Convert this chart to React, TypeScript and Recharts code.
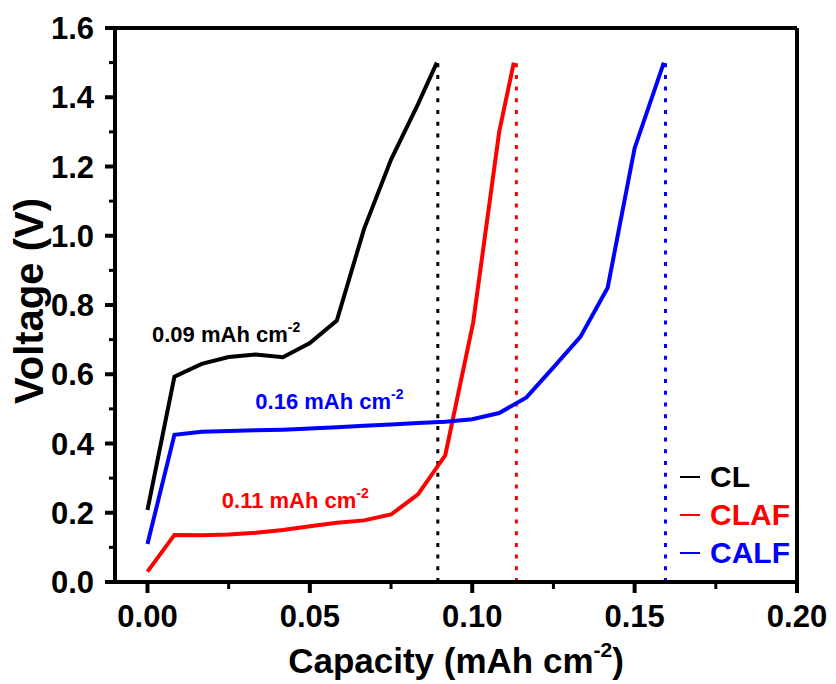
import React from 'react';
import { LineChart, Line, XAxis, YAxis, ReferenceLine, ReferenceDot, Legend } from 'recharts';

const FONT = "'Liberation Sans', Arial, Helvetica, sans-serif";

// ---- data ----
const seriesNames = ['CL', 'CLAF', 'CALF'];
const seriesColors = ['#000000', '#ff0000', '#0000ff'];

const clCapacity = [0, 0.0083, 0.0167, 0.025, 0.0333, 0.0417, 0.05, 0.0583, 0.0667, 0.075, 0.0833, 0.0891];
const clVoltage = [0.208, 0.593, 0.63, 0.65, 0.657, 0.649, 0.69, 0.755, 1.02, 1.22, 1.38, 1.5];

const clafCapacity = [0, 0.0083, 0.0167, 0.025, 0.0333, 0.0417, 0.05, 0.0583, 0.0667, 0.075, 0.0833, 0.0917, 0.1003, 0.1083, 0.1128];
const clafVoltage = [0.03, 0.136, 0.135, 0.137, 0.142, 0.15, 0.161, 0.171, 0.178, 0.195, 0.253, 0.366, 0.75, 1.3, 1.5];

const calfCapacity = [0, 0.0083, 0.0167, 0.025, 0.0333, 0.0417, 0.05, 0.0583, 0.0667, 0.075, 0.0833, 0.0917, 0.1, 0.1083, 0.1167, 0.125, 0.1333, 0.1417, 0.15, 0.159];
const calfVoltage = [0.11, 0.425, 0.434, 0.436, 0.438, 0.44, 0.443, 0.447, 0.451, 0.455, 0.459, 0.463, 0.47, 0.488, 0.533, 0.62, 0.708, 0.85, 1.253, 1.5];

const cutoffCapacity = [0.0894, 0.1136, 0.1595];
const cutoffVoltage = 1.5;

const annotationTexts = ['0.09 mAh cm', '0.16 mAh cm', '0.11 mAh cm'];
const annotationX = [0.0014, 0.0332, 0.0229];
const annotationY = [0.694, 0.499, 0.213];
const annotationColors = ['#000000', '#0000ff', '#ff0000'];

const xTicks = [0, 0.025, 0.05, 0.075, 0.1, 0.125, 0.15, 0.175, 0.2];
const yTicks = [0, 0.1, 0.2, 0.3, 0.4, 0.5, 0.6, 0.7, 0.8, 0.9, 1.0, 1.1, 1.2, 1.3, 1.4, 1.5, 1.6];

const toPoints = (xs: number[], ys: number[]) => xs.map((x, i) => ({ x, y: ys[i] }));
const clData = toPoints(clCapacity, clVoltage);
const clafData = toPoints(clafCapacity, clafVoltage);
const calfData = toPoints(calfCapacity, calfVoltage);
const seriesData = [clData, clafData, calfData];

const isMultiple = (v: number, step: number) => Math.abs(v / step - Math.round(v / step)) < 1e-6;

const XTick = (props: any) => {
  const { x, y, payload } = props;
  const v = payload.value as number;
  const major = isMultiple(v, 0.05);
  return (
    <g>
      <line x1={x} x2={x} y1={y} y2={y + (major ? 11 : 7)} stroke="#000" strokeWidth={major ? 4 : 3} />
      {major && (
        <text x={x} y={y + 45} textAnchor="middle" fontFamily={FONT} fontWeight="bold" fontSize={31} fill="#000">
          {v.toFixed(2)}
        </text>
      )}
    </g>
  );
};

const YTick = (props: any) => {
  const { x, y, payload } = props;
  const v = payload.value as number;
  const major = isMultiple(v, 0.2);
  return (
    <g>
      <line x1={x} x2={x - (major ? 10 : 6)} y1={y} y2={y} stroke="#000" strokeWidth={major ? 4 : 3} />
      {major && (
        <text x={x - 21} y={y + 11} textAnchor="end" fontFamily={FONT} fontWeight="bold" fontSize={31} fill="#000">
          {v.toFixed(1)}
        </text>
      )}
    </g>
  );
};

const XTitle = (props: any) => {
  const vb = props.viewBox || {};
  const cx = vb.x + vb.width / 2;
  const by = vb.y + 91;
  return (
    <text x={cx} y={by} textAnchor="middle" fontFamily={FONT} fontWeight="bold" fontSize={35} fill="#000">
      Capacity (mAh cm
      <tspan dy={-16} fontSize={21}>-2</tspan>
      <tspan dy={16}>)</tspan>
    </text>
  );
};

const YTitle = (props: any) => {
  const vb = props.viewBox || {};
  const cx = vb.x + 35;
  const cy = vb.y + vb.height / 2 - 4;
  return (
    <text
      x={cx}
      y={cy}
      transform={`rotate(-90, ${cx}, ${cy})`}
      textAnchor="middle"
      fontFamily={FONT}
      fontWeight="bold"
      fontSize={40}
      fill="#000"
    >
      Voltage (V)
    </text>
  );
};

const makeAnno = (text: string, color: string) => (props: any) => {
  const vb = props.viewBox || {};
  const x = vb.x + (vb.width || 0) / 2;
  const y = vb.y + (vb.height || 0) / 2;
  return (
    <text x={x} y={y} fontFamily={FONT} fontWeight="bold" fontSize={22} fill={color}>
      {text}
      <tspan dy={-10} fontSize={14}>-2</tspan>
    </text>
  );
};

const renderLegend = (props: any) => {
  const payload = (props.payload || []).slice().sort(
    (a: any, b: any) => seriesNames.indexOf(a.value) - seriesNames.indexOf(b.value)
  );
  return (
    <div style={{ fontFamily: FONT }}>
      {payload.map((entry: any) => (
        <div key={entry.value} style={{ display: 'flex', alignItems: 'center', height: 38.3 }}>
          <svg width={20} height={4} style={{ display: 'block' }}>
            <line x1={0} x2={20} y1={2} y2={2} stroke={entry.color} strokeWidth={2} />
          </svg>
          <span style={{ marginLeft: 10, fontSize: 30, fontWeight: 'bold', color: entry.color, lineHeight: '38px' }}>
            {entry.value}
          </span>
        </div>
      ))}
    </div>
  );
};

export default function App() {
  return (
    <LineChart width={828} height={676} margin={{ top: 20, right: 39, bottom: 0, left: 0 }}>
      <XAxis
        type="number"
        dataKey="x"
        domain={[-0.01, 0.2]}
        allowDataOverflow
        ticks={xTicks}
        interval={0}
        tickSize={0}
        tickMargin={0}
        tickLine={false}
        tick={<XTick />}
        axisLine={{ stroke: '#000', strokeWidth: 4 }}
        height={102}
        label={<XTitle />}
      />
      <YAxis
        type="number"
        dataKey="y"
        domain={[0, 1.6]}
        allowDataOverflow
        ticks={yTicks}
        interval={0}
        tickSize={0}
        tickMargin={0}
        tickLine={false}
        tick={<YTick />}
        axisLine={{ stroke: '#000', strokeWidth: 4 }}
        width={107}
        label={<YTitle />}
      />
      <ReferenceLine y={1.6} stroke="#000" strokeWidth={4} />
      <ReferenceLine x={0.2} stroke="#000" strokeWidth={4} />
      {cutoffCapacity.map((c, i) => (
        <ReferenceLine
          key={'cut' + i}
          segment={[{ x: c, y: 0 }, { x: c, y: cutoffVoltage }]}
          stroke={seriesColors[i]}
          strokeWidth={3}
          strokeDasharray="4 7.7"
        />
      ))}
      {seriesNames.map((name, i) => (
        <Line
          key={name}
          name={name}
          data={seriesData[i]}
          dataKey="y"
          type="linear"
          stroke={seriesColors[i]}
          strokeWidth={4}
          dot={false}
          activeDot={false}
          isAnimationActive={false}
        />
      ))}
      {annotationTexts.map((t, i) => (
        <ReferenceDot
          key={'anno' + i}
          x={annotationX[i]}
          y={annotationY[i]}
          r={1}
          fill="none"
          stroke="none"
          label={makeAnno(t, annotationColors[i])}
        />
      ))}
      <Legend
        layout="vertical"
        align="center"
        verticalAlign="middle"
        content={renderLegend}
        wrapperStyle={{ left: 672, top: 449.5, width: 'auto', height: 'auto' }}
      />
    </LineChart>
  );
}
